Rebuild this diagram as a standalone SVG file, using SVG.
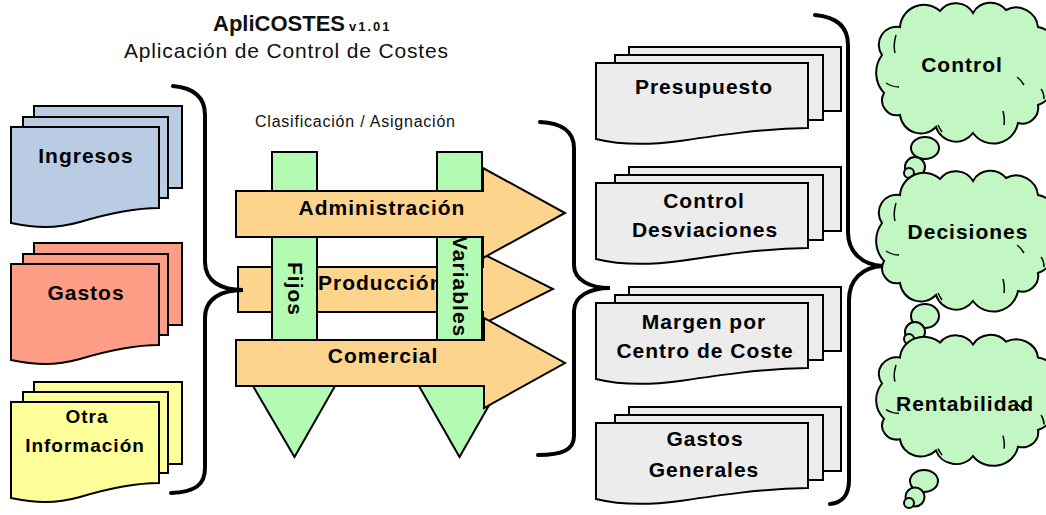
<svg xmlns="http://www.w3.org/2000/svg" width="1046" height="515" viewBox="0 0 1046 515">
<style>
.lbl{font-family:"Liberation Sans",Arial,sans-serif;font-weight:bold;font-size:21px;letter-spacing:1px;fill:#000;text-anchor:middle}
.sm{font-size:19px}
.st{text-anchor:start}
.ttl{font-family:"Liberation Sans",Arial,sans-serif;fill:#111}
.sheet{stroke:#000;stroke-width:2}
.blue{fill:#b9cce4}
.red{fill:#ff9d86}
.yel{fill:#ffff99}
.gray{fill:#ececec}
.org{fill:#fdd48c;stroke:#000;stroke-width:2}
.grn{fill:#b3fbb3;stroke:#000;stroke-width:2}
.brace{fill:none;stroke:#000;stroke-width:4;stroke-linecap:round}
.cloud{fill:#c2f6c2;stroke:#000;stroke-width:2;vector-effect:non-scaling-stroke}
.inner{fill:none;stroke:#000;stroke-width:1.5;vector-effect:non-scaling-stroke}
</style>
<defs>
<g id="cloudShape">
<path class="cloud" d="M4,50 A18,18 0 0 1 22,22 A24,24 0 0 1 62,6 A20,20 0 0 1 95,8 A20,20 0 0 1 128,5 A22,22 0 0 1 160,22 A24,24 0 0 1 170,65 A22,22 0 0 1 160,100 A16,16 0 0 1 140,118 A25,25 0 0 1 95,128 A21,21 0 0 1 58,122 A21,21 0 0 1 22,110 A15,15 0 0 1 6,88 A30,30 0 0 1 4,50 Z"/>
<path class="inner" d="M18,30 Q15,40 17,48 M8,78 Q14,82 21,82 M139,72 Q143,75 146,80 M163,84 Q166,88 166,94 M125,106 Q127,114 126,120 M60,120 Q62,124 64,127"/>
</g>
</defs>

<g id="title">
<text class="ttl" x="213" y="31" font-weight="bold" font-size="22">ApliCOSTES<tspan font-size="13" letter-spacing="2" dx="4">v1.01</tspan></text>
<text class="ttl" x="124" y="58" font-size="21" textLength="324">Aplicación de Control de Costes</text>
<text class="ttl" x="255" y="127" font-size="16" textLength="200">Clasificación / Asignación</text>
</g>

<g id="ingresos">
<rect class="sheet blue" x="34" y="106" width="148" height="82"/>
<rect class="sheet blue" x="23" y="117" width="145" height="81"/>
<path class="sheet blue" d="M11,127 H159 V208 C135,208 110,213 80,222 C55,229 35,228 11,223 Z"/>
<text class="lbl" x="86" y="163">Ingresos</text>
</g>

<g id="gastos">
<rect class="sheet red" x="34" y="243" width="148" height="82"/>
<rect class="sheet red" x="23" y="254" width="145" height="81"/>
<path class="sheet red" d="M11,264 H159 V345 C135,345 110,350 80,359 C55,366 35,365 11,360 Z"/>
<text class="lbl" x="86" y="300">Gastos</text>
</g>

<g id="otra">
<rect class="sheet yel" x="34" y="382" width="148" height="82"/>
<rect class="sheet yel" x="23" y="392" width="145" height="81"/>
<path class="sheet yel" d="M11,402 H159 V483 C135,483 110,488 80,497 C55,504 35,503 11,498 Z"/>
<text class="lbl sm" x="87" y="423">Otra</text>
<text class="lbl sm" x="85" y="452">Información</text>
</g>

<g id="produccion">
<path class="org" d="M238,267 H483 V254 L553,289 L483,324 V312 H238 Z"/>
<text class="lbl st" x="318" y="290">Producción</text>
</g>

<g id="fijos">
<path class="grn" d="M272,152 H317 V386 H335 L294.5,457 L253,386 H272 Z"/>
<text class="lbl st" transform="translate(288,262) rotate(90)">Fijos</text>
</g>

<g id="variables">
<path class="grn" d="M437,152 H482 V386 H500 L459.5,457 L419,386 H437 Z"/>
<text class="lbl st" transform="translate(453,236) rotate(90)">Variables</text>
</g>

<g id="administracion">
<path class="org" d="M236,191 H483 V168 L565,213 L483,258 V237 H236 Z"/>
<text class="lbl" x="382" y="215">Administración</text>
</g>

<g id="comercial">
<path class="org" d="M236,340 H484 V318 L565,363 L484,408 V386 H236 Z"/>
<text class="lbl" x="383" y="363">Comercial</text>
</g>

<g id="presupuesto">
<rect class="sheet gray" x="629" y="47" width="212" height="64"/>
<rect class="sheet gray" x="615" y="55" width="208" height="65"/>
<path class="sheet gray" d="M596,63 H808 V128 C760,129 720,135 680,141 C650,145 620,145 596,139 Z"/>
<text class="lbl" x="704" y="94">Presupuesto</text>
</g>

<g id="control-desviaciones">
<rect class="sheet gray" x="629" y="167" width="212" height="64"/>
<rect class="sheet gray" x="615" y="175" width="208" height="65"/>
<path class="sheet gray" d="M596,183 H808 V248 C760,249 720,255 680,261 C650,265 620,265 596,259 Z"/>
<text class="lbl" x="704" y="208">Control</text>
<text class="lbl" x="705" y="237">Desviaciones</text>
</g>

<g id="margen">
<rect class="sheet gray" x="629" y="287" width="212" height="64"/>
<rect class="sheet gray" x="615" y="295" width="208" height="65"/>
<path class="sheet gray" d="M596,303 H808 V368 C760,369 720,375 680,381 C650,385 620,385 596,379 Z"/>
<text class="lbl" x="704" y="329">Margen por</text>
<text class="lbl" x="705" y="358">Centro de Coste</text>
</g>

<g id="gastos-generales">
<rect class="sheet gray" x="629" y="407" width="212" height="64"/>
<rect class="sheet gray" x="615" y="415" width="208" height="65"/>
<path class="sheet gray" d="M596,423 H808 V488 C760,489 720,495 680,501 C650,505 620,505 596,499 Z"/>
<text class="lbl" x="705" y="446">Gastos</text>
<text class="lbl" x="704" y="477">Generales</text>
</g>

<g id="cloud-control">
<use href="#cloudShape" transform="translate(878,5)"/>
<ellipse class="cloud" cx="925" cy="148" rx="14" ry="11"/>
<circle class="cloud" cx="915" cy="167" r="10"/>
<circle class="cloud" cx="909" cy="173" r="5"/>
<text class="lbl" x="962" y="72">Control</text>
</g>

<g id="cloud-decisiones">
<use href="#cloudShape" transform="translate(878,173)"/>
<ellipse class="cloud" cx="925" cy="316" rx="14" ry="12"/>
<circle class="cloud" cx="915" cy="332" r="10"/>
<circle class="cloud" cx="909" cy="339" r="5"/>
<text class="lbl" x="968" y="239">Decisiones</text>
</g>

<g id="cloud-rentabilidad">
<use href="#cloudShape" transform="translate(878,337) scale(1,0.93)"/>
<ellipse class="cloud" cx="924" cy="481" rx="14" ry="11"/>
<circle class="cloud" cx="915" cy="497" r="9.5"/>
<circle class="cloud" cx="909" cy="503" r="5"/>
<text class="lbl" x="965" y="411">Rentabilidad</text>
</g>

<g id="connectors">
<path class="brace" d="M173,86 C195,88 205,98 205,115 L205,262 C205,282 222,290 243,290 C222,290 205,298 205,318 L205,468 C205,485 195,492 171,493"/>
<path class="brace" stroke-width="3.5" d="M540,122 C562,123 574,132 574,148 L574,265 C574,280 590,288 610,288 C590,288 574,296 574,311 L574,436 C574,450 562,455 538,455"/>
<path class="brace" stroke-width="3.5" d="M815,15 C838,17 848,28 848,45 L848,232 C848,252 862,265 883,266 C862,267 849,280 849,300 L849,480 C849,495 842,503 830,504"/>
</g>
</svg>
